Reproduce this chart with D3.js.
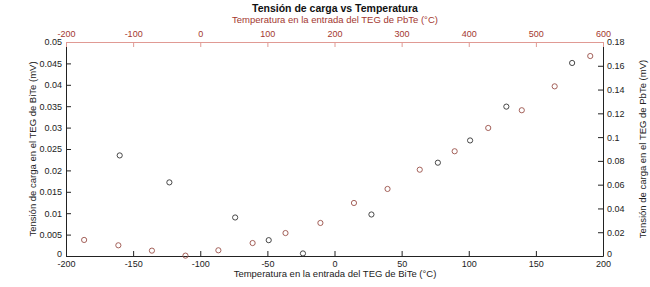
<!DOCTYPE html>
<html lang="en">
<head>
    <meta charset="UTF-8">
    <title>Tensión de carga vs Temperatura</title>
    <style>
        body {
            margin: 0;
            background: #fff;
            font-family: 'Liberation Sans', Arial, sans-serif;
        }
        .axis text {
            font-size: 9px;
        }
    </style>
</head>
<body>
    <div id="chart"></div>
    <script src="https://d3js.org/d3.v7.min.js"></script>
    <script>
        // BiTe series (bottom / left axes)
        const biteTemp = [-160, -123, -74, -49, -23.5, 27.5, 77, 101, 128, 177];
        const biteVolt = [0.0235, 0.0172, 0.0090, 0.0037, 0.0006, 0.0097, 0.0218, 0.0270, 0.0349, 0.0451];

        // PbTe series (top / right axes)
        const pbteTemp = [-173, -122, -72, -22, 27, 78, 127, 179, 229, 279, 327, 379, 429, 479, 528, 581];
        const pbteVolt = [0.0135, 0.0090, 0.0045, 0.0003, 0.0048, 0.0109, 0.0193, 0.0278, 0.0446, 0.0564,
                          0.0726, 0.0881, 0.1077, 0.1226, 0.1427, 0.1682];

        const bottomTicks = [-200, -150, -100, -50, 0, 50, 100, 150, 200];
        const topTicks = [-200, -100, 0, 100, 200, 300, 400, 500, 600];
        const leftTicks = [0, 0.005, 0.01, 0.015, 0.02, 0.025, 0.03, 0.035, 0.04, 0.045, 0.05];
        const rightTicks = [0, 0.02, 0.04, 0.06, 0.08, 0.1, 0.12, 0.14, 0.16, 0.18];

        const width = 650, height = 287;
        const m = { left: 66, right: 603, top: 42, bottom: 256 };
        const redText = "#a3382f", redLine = "#e09a94";

        const svg = d3.select("#chart").append("svg")
            .attr("width", width)
            .attr("height", height);

        const x = d3.scaleLinear().domain([-200, 200]).range([m.left, m.right]);
        const x2 = d3.scaleLinear().domain([-200, 600]).range([m.left, m.right]);
        const y = d3.scaleLinear().domain([0, 0.05]).range([m.bottom, m.top]);
        const y2 = d3.scaleLinear().domain([0, 0.18]).range([m.bottom, m.top]);

        const fmt = d => String(d);

        // bottom axis
        const gB = svg.append("g").attr("class", "axis")
            .attr("transform", `translate(0,${m.bottom})`)
            .call(d3.axisBottom(x).tickValues(bottomTicks).tickFormat(fmt).tickSizeInner(-5).tickSizeOuter(0).tickPadding(4));
        gB.selectAll("line").attr("stroke", "#222");
        gB.select(".domain").attr("stroke", "#222");
        gB.selectAll("text").attr("fill", "#222").attr("y", 5);

        // left axis
        const gL = svg.append("g").attr("class", "axis")
            .attr("transform", `translate(${m.left},0)`)
            .call(d3.axisLeft(y).tickValues(leftTicks).tickFormat(fmt).tickSizeInner(-5).tickSizeOuter(0).tickPadding(4));
        gL.selectAll("line").attr("stroke", "#222");
        gL.select(".domain").attr("stroke", "#222");
        gL.selectAll("text").attr("fill", "#222").attr("x", -4)
            .attr("y", d => d === 0 ? -2 : 0);

        // right axis
        const gR = svg.append("g").attr("class", "axis")
            .attr("transform", `translate(${m.right},0)`)
            .call(d3.axisRight(y2).tickValues(rightTicks).tickFormat(fmt).tickSizeInner(-5).tickSizeOuter(0).tickPadding(4));
        gR.selectAll("line").attr("stroke", "#222");
        gR.select(".domain").attr("stroke", "#222");
        gR.selectAll("text").attr("fill", "#222").attr("x", 4)
            .attr("y", d => d === 0 ? -2 : 0);

        // top axis (red)
        const gT = svg.append("g").attr("class", "axis")
            .attr("transform", `translate(0,${m.top})`)
            .call(d3.axisTop(x2).tickValues(topTicks).tickFormat(fmt).tickSizeInner(-5).tickSizeOuter(0).tickPadding(4));
        gT.selectAll("line").attr("stroke", redLine);
        gT.select(".domain").attr("stroke", redLine);
        gT.selectAll("text").attr("fill", redText).attr("y", -5);

        // BiTe points
        svg.append("g")
            .selectAll("circle")
            .data(biteTemp.map((t, i) => [t, biteVolt[i]]))
            .join("circle")
            .attr("cx", d => x(d[0]))
            .attr("cy", d => y(d[1]))
            .attr("r", 2.6)
            .attr("fill", "none")
            .attr("stroke", "#333")
            .attr("stroke-width", 0.9);

        // PbTe points
        svg.append("g")
            .selectAll("circle")
            .data(pbteTemp.map((t, i) => [t, pbteVolt[i]]))
            .join("circle")
            .attr("cx", d => x2(d[0]))
            .attr("cy", d => y2(d[1]))
            .attr("r", 2.6)
            .attr("fill", "none")
            .attr("stroke", "#9a5048")
            .attr("stroke-width", 0.9);

        // titles
        svg.append("text")
            .attr("x", 335).attr("y", 12)
            .attr("text-anchor", "middle")
            .style("font-size", "10.5px").style("font-weight", "bold")
            .attr("fill", "#111")
            .text("Tensión de carga vs Temperatura");

        svg.append("text")
            .attr("x", 335).attr("y", 23)
            .attr("text-anchor", "middle")
            .style("font-size", "9.5px")
            .attr("fill", redText)
            .text("Temperatura en la entrada del TEG de PbTe (°C)");

        svg.append("text")
            .attr("x", 335).attr("y", 277)
            .attr("text-anchor", "middle")
            .style("font-size", "9.5px")
            .attr("fill", "#222")
            .text("Temperatura en la entrada del TEG de BiTe (°C)");

        svg.append("text")
            .attr("transform", `translate(36,${(m.top + m.bottom) / 2}) rotate(-90)`)
            .attr("text-anchor", "middle")
            .style("font-size", "9.5px")
            .attr("fill", "#222")
            .text("Tensión de carga en el TEG de BiTe (mV)");

        svg.append("text")
            .attr("transform", `translate(646,${(m.top + m.bottom) / 2}) rotate(-90)`)
            .attr("text-anchor", "middle")
            .style("font-size", "9.5px")
            .attr("fill", "#222")
            .text("Tensión de carga en el TEG de PbTe (mV)");
    </script>
</body>
</html>
